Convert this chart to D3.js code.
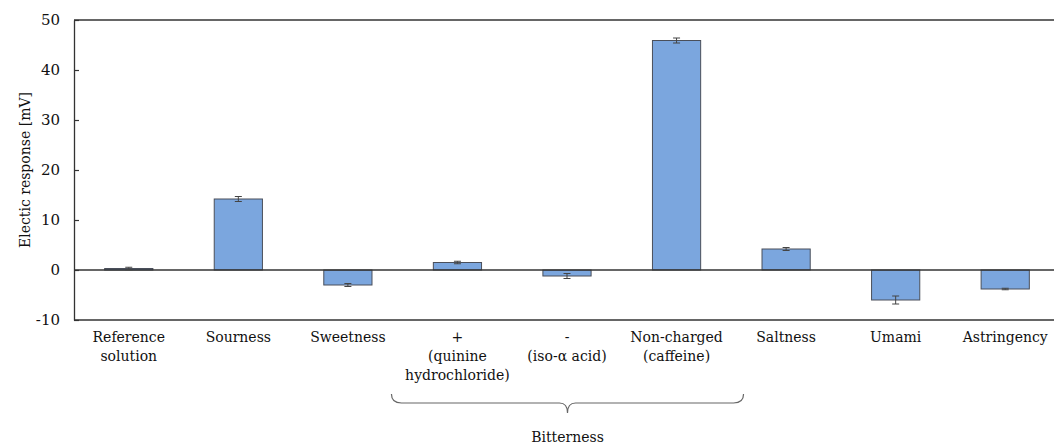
<!DOCTYPE html>
<html>
<head>
<meta charset="utf-8">
<script src="https://cdn.jsdelivr.net/npm/d3@7"></script>
<style>
  body { margin: 0; background: #fff; }
</style>
</head>
<body>
<svg id="chart" width="1054" height="445"></svg>
<script>
// Taste sensor responses (mV) with standard deviations
const categories = ["ref", "sour", "sweet", "bitterPos", "bitterNeg", "bitterNeutral", "salt", "umami", "astr"];
const labelLines = [
  ["Reference", "solution"],
  ["Sourness"],
  ["Sweetness"],
  ["+", "(quinine", "hydrochloride)"],
  ["-", "(iso-α acid)"],
  ["Non-charged", "(caffeine)"],
  ["Saltness"],
  ["Umami"],
  ["Astringency"]
];
const responses = [0.3, 14.2, -3.0, 1.5, -1.2, 45.9, 4.2, -6.0, -3.8];
const errors = [0.25, 0.5, 0.3, 0.25, 0.5, 0.5, 0.3, 0.8, 0.15];
const yTicks = [-10, 0, 10, 20, 30, 40, 50];
const groupLabel = "Bitterness";
const groupRange = ["bitterPos", "bitterNeutral"];

const FONT = "'DejaVu Serif', 'Liberation Serif', serif";
const FS = 14;

const svg = d3.select("#chart");
const margin = { left: 74, top: 20, right: -6, bottom: 125 };
const W = 1054, H = 445;

const x = d3.scaleBand()
  .domain(categories)
  .range([margin.left, W - margin.right])
  .paddingInner(0.56)
  .paddingOuter(0.28);

const y = d3.scaleLinear().domain([-10, 50]).range([H - margin.bottom, margin.top]);

const axisColor = "#333";

// Frame line along the top
svg.append("line")
  .attr("x1", margin.left).attr("x2", W)
  .attr("y1", y(50)).attr("y2", y(50))
  .attr("stroke", axisColor).attr("stroke-width", 1.3);

// Y axis with short inward ticks
const yAxis = svg.append("g")
  .attr("transform", `translate(${margin.left},0)`)
  .call(d3.axisLeft(y).tickValues(yTicks).tickFormat(d => String(d))
    .tickSizeInner(-5).tickSizeOuter(0).tickPadding(14));
yAxis.attr("font-family", null);
yAxis.select(".domain").attr("stroke", axisColor).attr("stroke-width", 1.3);
yAxis.selectAll(".tick line").attr("stroke", axisColor).attr("stroke-width", 1.2);
yAxis.selectAll("text")
  .style("font-family", FONT)
  .attr("x", -14)
  .attr("font-size", FS + 1)
  .attr("fill", "#111");

// Bottom axis line at -10
svg.append("line")
  .attr("x1", margin.left).attr("x2", W)
  .attr("y1", y(-10)).attr("y2", y(-10))
  .attr("stroke", axisColor).attr("stroke-width", 1.5);

// Bars
svg.append("g").selectAll("rect")
  .data(categories)
  .join("rect")
  .attr("x", d => x(d))
  .attr("width", x.bandwidth())
  .attr("y", (d, i) => y(Math.max(0, responses[i])))
  .attr("height", (d, i) => Math.abs(y(responses[i]) - y(0)))
  .attr("fill", "#7ba6de")
  .attr("stroke", "#4a4f5a")
  .attr("stroke-width", 1);

// Zero line
svg.append("line")
  .attr("x1", margin.left).attr("x2", W)
  .attr("y1", y(0)).attr("y2", y(0))
  .attr("stroke", axisColor).attr("stroke-width", 1.3);

// Error bars
const eb = svg.append("g").attr("stroke", "#444").attr("stroke-width", 1);
categories.forEach((c, i) => {
  const cx = x(c) + x.bandwidth() / 2;
  const lo = y(responses[i] - errors[i]);
  const hi = y(responses[i] + errors[i]);
  eb.append("line").attr("x1", cx).attr("x2", cx).attr("y1", lo).attr("y2", hi);
  eb.append("line").attr("x1", cx - 3.5).attr("x2", cx + 3.5).attr("y1", lo).attr("y2", lo);
  eb.append("line").attr("x1", cx - 3.5).attr("x2", cx + 3.5).attr("y1", hi).attr("y2", hi);
});

// Category labels
const lab = svg.append("g")
  .attr("font-size", FS)
  .attr("fill", "#111")
  .attr("text-anchor", "middle");
categories.forEach((c, i) => {
  const cx = x(c) + x.bandwidth() / 2;
  const t = lab.append("text").style("font-family", FONT).attr("x", cx).attr("y", y(-10) + 22);
  labelLines[i].forEach((line, j) => {
    t.append("tspan").attr("x", cx).attr("dy", j === 0 ? 0 : 19).text(line);
  });
});

// Brace under the bitterness group
const bx0 = x(groupRange[0]) + x.bandwidth() / 2 - 66;
const bx1 = x(groupRange[1]) + x.bandwidth() / 2 + 67;
const bmid = (bx0 + bx1) / 2;
const by0 = 394, by1 = 403, bTip = 413;
const brace = d3.path();
brace.moveTo(bx0, by0);
brace.quadraticCurveTo(bx0, by1, bx0 + 10, by1);
brace.lineTo(bmid - 8, by1);
brace.quadraticCurveTo(bmid, by1, bmid, bTip);
brace.quadraticCurveTo(bmid, by1, bmid + 8, by1);
brace.lineTo(bx1 - 10, by1);
brace.quadraticCurveTo(bx1, by1, bx1, by0);
svg.append("path")
  .attr("d", brace.toString())
  .attr("fill", "none")
  .attr("stroke", "#666")
  .attr("stroke-width", 1.2);

svg.append("text")
  .style("font-family", FONT)
  .attr("x", bmid).attr("y", 442)
  .attr("text-anchor", "middle")
  .attr("font-size", FS)
  .attr("fill", "#111")
  .text(groupLabel);

// Y axis title
svg.append("text")
  .style("font-family", FONT)
  .attr("transform", `translate(30,${(y(50) + y(-10)) / 2}) rotate(-90)`)
  .attr("text-anchor", "middle")
  .attr("font-size", FS)
  .attr("fill", "#111")
  .text("Electic response [mV]");
</script>
</body>
</html>
